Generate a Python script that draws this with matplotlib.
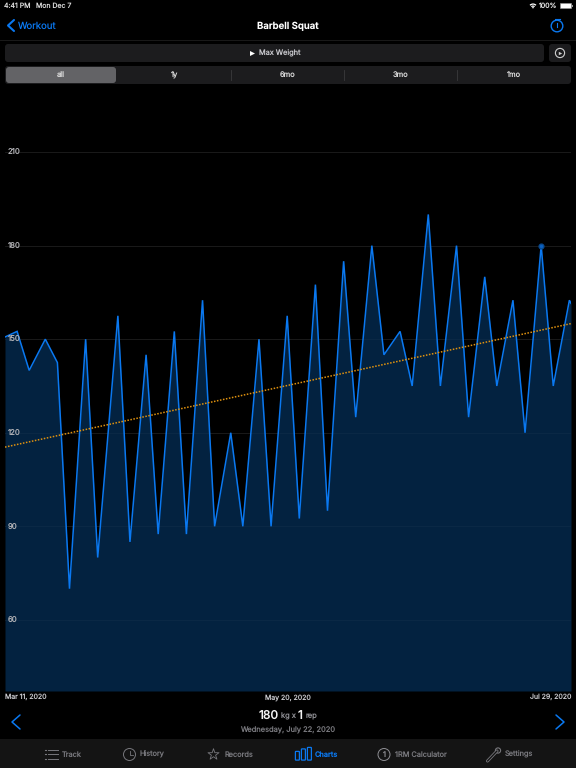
#!/usr/bin/env python3
"""Max weight chart screen for barbell squat, drawn with matplotlib."""

import matplotlib

matplotlib.use("Agg")
import matplotlib.pyplot as plt
from matplotlib.patches import Arc, Circle, FancyBboxPatch, Rectangle

# days since Mar 11, 2020
days = [0, 3, 6, 10, 13, 16, 20, 23, 28, 31, 35, 38, 42, 45, 49, 52, 56, 59, 63, 66, 70,
        73, 77, 80, 84, 87, 91, 94, 98, 101, 105, 108, 112, 115, 119, 122, 126, 129, 133,
        136, 140, 140.4]
weights = [150.7, 152.5, 140, 150, 142.5, 70, 150, 80, 157.5, 85, 145, 87.5, 152.5, 87.5,
           162.5, 90, 120, 90, 150, 90, 157.5, 92.5, 167.5, 95, 175, 125, 180, 145, 152.5,
           135, 190, 135, 180, 125, 170, 135, 162.5, 120, 180, 135, 162.5, 161.5]
trend_days = [0, 140.4]
trend_values = [115.4, 155]
y_ticks = [60, 90, 120, 150, 180, 210]
selected_day = 133
date_labels = ["Mar 11, 2020", "May 20, 2020", "Jul 29, 2020"]
range_labels = ["all", "1y", "6mo", "3mo", "1mo"]
tab_labels = ["Track", "History", "Records", "Charts", "1RM Calculator", "Settings"]

BLUE = "#0a78f0"
FILL = "#032240"
GRAY = "#8e8e93"
PILL = "#1c1c1e"

plt.rcParams["font.family"] = ["Inter", "DejaVu Sans"]
plt.rcParams["text.hinting"] = "no_hinting"
plt.rcParams["text.hinting_factor"] = 1

fig = plt.figure(figsize=(5.76, 7.68), dpi=100, facecolor="black")

# screen furniture, in pixel coordinates
ui = fig.add_axes([0, 0, 1, 1])
ui.set_xlim(0, 576)
ui.set_ylim(768, 0)
ui.axis("off")


def label(x, y, text, size=5.4, color="#c7c7cc", ha="center", weight="normal"):
    ui.text(x, y, text, fontsize=size, color=color, ha=ha, va="center", fontweight=weight)


def pill(x, y, w, h, color=PILL, radius=3):
    ui.add_patch(FancyBboxPatch((x + radius, y + radius), w - 2 * radius, h - 2 * radius,
                                boxstyle=f"round,pad={radius}", fc=color, ec="none"))


def chevron(x, y, w, h, color=BLUE, lw=1.1):
    ui.plot([x + w, x, x + w], [y - h, y, y + h], color=color, lw=lw, solid_capstyle="round")


def ring(x, y, r, color, lw=0.9):
    ui.add_patch(Circle((x, y), r, fc="none", ec=color, lw=lw))


# status bar
label(4, 5.7, "4:41 PM", size=5.0, color="#d8d8d8", ha="left")
label(36, 5.7, "Mon Dec 7", size=5.0, color="#d8d8d8", ha="left")
label(539, 5.7, "100%", size=5.0, color="#e8e8e8", ha="left")
ui.add_patch(Rectangle((559.5, 3.3), 11.5, 5.2, fc="white", ec="#999999", lw=0.4))
ui.add_patch(Rectangle((571.5, 4.8), 1, 2.2, fc="#999999", ec="none"))
for arc_d in [4.5, 8.5]:
    ui.add_patch(Arc((533, 8.3), arc_d, arc_d, theta1=225, theta2=315, color="white", lw=0.9))
ui.add_patch(Circle((533, 7.6), 0.8, fc="white", ec="none"))

# nav bar
chevron(8, 25.5, 6, 5.5, lw=1.5)
label(18, 26, "Workout", size=6.9, color=BLUE, ha="left")
label(288, 26, "Barbell Squat", size=6.9, color="white", weight="semibold")
ring(557, 26, 5.8, BLUE, lw=1)
ui.plot([557, 557], [22.5, 26.5], color=BLUE, lw=0.8)
ui.plot([554.5, 559.5], [18.8, 18.8], color=BLUE, lw=0.8)
ui.plot([0, 576], [39.5, 39.5], color="#1a1a1a", lw=0.7)

# metric selector
pill(5, 44, 539, 18)
ui.scatter([252], [53], s=13, marker=">", color="white", linewidths=0)
label(259, 53.3, "Max Weight", size=5.3, ha="left")
pill(549, 44, 22, 18)
ring(560, 53, 4.6, "#d0d0d0", lw=0.8)
ui.scatter([560.3], [53], s=6, marker=">", color="#d0d0d0", linewidths=0)

# range selector
pill(5, 66, 566, 18)
pill(6, 67, 110, 16, color="#636366")
for name, x in zip(range_labels, [61, 174, 288, 401, 514]):
    label(x, 75, name, size=5.4, color="#d8d8d8", weight="medium" if name == "all" else "normal")
for x in [231, 344, 457]:
    ui.plot([x, x], [70, 80], color="#3a3a3c", lw=0.6)

# chart, placed so that its frame lands on the screenshot's pixels
ax = fig.add_axes([5 / 576, (768 - 691) / 768, 566 / 576, (691 - 85) / 768])
ax.patch.set_alpha(0)
ax.set_xlim(0, 140.4)
ax.set_ylim(37.2, 231.5)
for side in ax.spines.values():
    side.set_visible(False)
ax.set_xticks([])
ax.set_yticks([])

for tick in y_ticks:
    ax.axhline(tick, color="#161616", lw=0.6, zorder=1)
ax.fill_between(days, weights, 37.2, color=FILL, lw=0, zorder=2)
for tick in y_ticks:
    ax.axhline(tick, color="#ffffff", alpha=0.035, lw=0.6, zorder=3)
ax.plot(days, weights, color=BLUE, lw=1.1, solid_joinstyle="miter", zorder=4)
ax.plot(trend_days, trend_values, color="#e0920f", lw=1.1, ls=(0, (1, 1)), zorder=5)
ax.plot([selected_day], [weights[days.index(selected_day)]], marker="o", ms=3.4, mfc="#0a60c0",
        mec="#0a4a90", mew=1.0, zorder=6)
for tick in y_ticks:
    ax.annotate(str(tick), (0, tick), xytext=(2.2, 0), textcoords="offset points", fontsize=5.6,
                color="#b4b4b8", va="center", ha="left", zorder=7)

# date axis labels
label(5, 697.3, date_labels[0], size=5.0, color="#c7c7cc", ha="left")
label(288, 697.3, date_labels[1], size=5.0, color="#c7c7cc")
label(571, 697.3, date_labels[2], size=5.0, color="#c7c7cc", ha="right")

# selected point readout
chevron(12, 722, 8, 7)
chevron(564, 722, -8, 7)
label(259, 715.5, "180", size=8.6, color="#f2f2f2", ha="left", weight="medium")
label(281, 716.5, "kg x", size=5.4, color=GRAY, ha="left")
label(297.5, 715.5, "1", size=8.6, color="#f2f2f2", ha="left", weight="medium")
label(305.5, 716.5, "rep", size=5.4, color=GRAY, ha="left")
label(288, 730.5, "Wednesday, July 22, 2020", size=5.4, color="#77777c")

# tab bar
ui.add_patch(Rectangle((0, 739), 576, 29, fc="#141414", ec="none"))
tab_x = [62, 140, 225, 315, 395, 505]
for name, x in zip(tab_labels, tab_x):
    label(x, 754.5, name, size=5.3, color=BLUE if name == "Charts" else "#77777c", ha="left",
          weight="medium" if name == "Charts" else "normal")
for y in [749.5, 754, 758.5]:
    ui.plot([45, 46], [y, y], color="#77777c", lw=0.8)
    ui.plot([48, 57.5], [y, y], color="#77777c", lw=0.7)
ring(129.5, 754.5, 6, "#77777c", lw=0.7)
ui.plot([129.5, 129.5, 133], [750.5, 755, 755], color="#77777c", lw=0.6)
ui.scatter([213.5], [754.5], s=70, marker="*", facecolor="none", edgecolor="#77777c", linewidths=0.6)
for x, top in [(296, 752), (302, 749.5), (308, 748)]:
    ui.add_patch(FancyBboxPatch((x, top), 2.8, 759.5 - top, boxstyle="round,pad=0.6", fc="none",
                                ec=BLUE, lw=0.9))
ring(384, 754.5, 6, "#8e8e93", lw=0.7)
label(384, 754.5, "1", size=5.4, color="#8e8e93")
ui.plot([487.5, 497], [761, 751], color="#77777c", lw=2.2, solid_capstyle="round")
ui.plot([487.5, 497], [761, 751], color="#141414", lw=1.0, solid_capstyle="round")
ring(498, 750.5, 2.6, "#77777c", lw=0.8)

fig.savefig("out.png", dpi=100, facecolor="black")
plt.close(fig)
